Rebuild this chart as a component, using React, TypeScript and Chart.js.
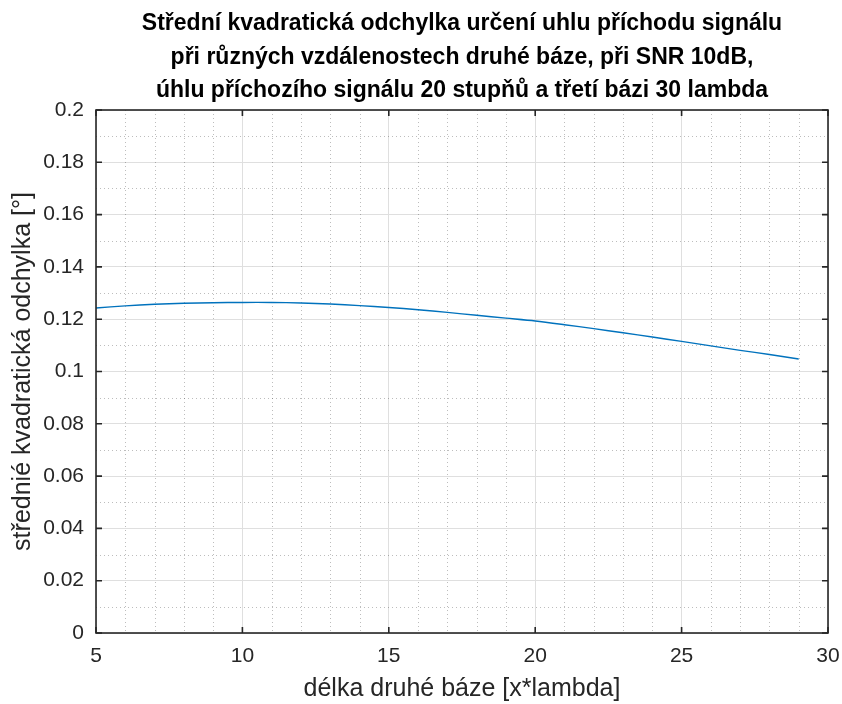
import { useEffect, useRef } from "react";
import { Chart, registerables } from "chart.js";

Chart.register(...registerables);

// Second-base length (multiples of lambda)
const baseLengths = [5, 6, 7, 8, 9, 10, 11, 12, 13, 14, 15, 16, 17, 18, 19, 20, 21, 22, 23, 24, 25, 26, 27, 28, 29];
// RMS error of the direction-of-arrival estimate [deg]
const rmsError = [
  0.1243, 0.1251, 0.1257, 0.1261, 0.1263, 0.1264, 0.1264, 0.1262, 0.1258, 0.1252,
  0.1245, 0.1236, 0.1226, 0.1215, 0.1204, 0.1193, 0.1179, 0.1164, 0.1148, 0.1132,
  0.1115, 0.1098, 0.1081, 0.1065, 0.1048,
];

const xTicks = [5, 10, 15, 20, 25, 30];
const yTicks = [0, 0.02, 0.04, 0.06, 0.08, 0.1, 0.12, 0.14, 0.16, 0.18, 0.2];
const xMinorStep = 1;
const yMinorStep = 0.01;

const titleLines = [
  "Střední kvadratická odchylka určení uhlu příchodu signálu",
  "při různých vzdálenostech druhé báze, při SNR 10dB,",
  "úhlu příchozího signálu 20 stupňů a třetí bázi 30 lambda",
];
const xLabel = "délka druhé báze [x*lambda]";
const yLabel = "střednié kvadratická odchylka [°]";

const AXIS_COLOR = "#262626";
const FONT = "'Liberation Sans', Arial, Helvetica, sans-serif";

const framePlugin = {
  id: "matlabFrame",
  beforeDatasetsDraw(chart: any) {
    const { ctx, chartArea: a, scales } = chart;
    const xs = scales.x;
    const ys = scales.y;
    ctx.save();
    ctx.strokeStyle = "rgba(38,38,38,0.3)";
    ctx.lineWidth = 1;
    ctx.setLineDash([1, 3]);
    for (let v = xs.min + xMinorStep; v < xs.max - 1e-9; v += xMinorStep) {
      if (xTicks.some((t) => Math.abs(t - v) < 1e-9)) continue;
      const px = Math.round(xs.getPixelForValue(v)) + 0.5;
      ctx.beginPath();
      ctx.moveTo(px, a.top);
      ctx.lineTo(px, a.bottom);
      ctx.stroke();
    }
    for (let v = ys.min + yMinorStep; v < ys.max - 1e-9; v += yMinorStep) {
      if (yTicks.some((t) => Math.abs(t - v) < 1e-9)) continue;
      const py = Math.round(ys.getPixelForValue(v)) + 0.5;
      ctx.beginPath();
      ctx.moveTo(a.left, py);
      ctx.lineTo(a.right, py);
      ctx.stroke();
    }
    ctx.restore();
  },
  afterDatasetsDraw(chart: any) {
    const { ctx, chartArea: a, scales } = chart;
    const xs = scales.x;
    const ys = scales.y;
    ctx.save();
    ctx.strokeStyle = AXIS_COLOR;
    ctx.lineWidth = 1.6;
    ctx.setLineDash([]);
    ctx.strokeRect(a.left, a.top, a.right - a.left, a.bottom - a.top);
    const tl = 6;
    ctx.beginPath();
    for (const t of xTicks) {
      const px = xs.getPixelForValue(t);
      ctx.moveTo(px, a.bottom);
      ctx.lineTo(px, a.bottom - tl);
      ctx.moveTo(px, a.top);
      ctx.lineTo(px, a.top + tl);
    }
    for (const t of yTicks) {
      const py = ys.getPixelForValue(t);
      ctx.moveTo(a.left, py);
      ctx.lineTo(a.left + tl, py);
      ctx.moveTo(a.right, py);
      ctx.lineTo(a.right - tl, py);
    }
    ctx.stroke();

    // title
    ctx.fillStyle = "#000";
    ctx.font = `bold 23px ${FONT}`;
    ctx.textAlign = "center";
    ctx.textBaseline = "alphabetic";
    const cx = (a.left + a.right) / 2;
    titleLines.forEach((line, i) => {
      ctx.fillText(line, cx, 30 + i * 33.5);
    });
    ctx.restore();
  },
};

export default function App() {
  const canvasRef = useRef<HTMLCanvasElement | null>(null);

  useEffect(() => {
    const canvas = canvasRef.current;
    if (!canvas) return;
    const chart = new Chart(canvas, {
      type: "line",
      data: {
        datasets: [
          {
            data: baseLengths.map((x, i) => ({ x, y: rmsError[i] })),
            borderColor: "#0072BD",
            borderWidth: 1.4,
            pointRadius: 0,
            tension: 0.3,
            fill: false,
          },
        ],
      },
      options: {
        responsive: false,
        animation: false,
        devicePixelRatio: 1,
        layout: { padding: { top: 110, right: 14, left: 0, bottom: 0 } },
        plugins: {
          legend: { display: false },
          tooltip: { enabled: false },
          title: { display: false },
        },
        scales: {
          x: {
            type: "linear",
            min: 5,
            max: 30,
            afterBuildTicks: (s: any) => {
              s.ticks = xTicks.map((value) => ({ value }));
            },
            afterFit: (s: any) => {
              s.height = 71;
              s.paddingLeft = 0;
              s.paddingRight = 0;
            },
            grid: { color: "#dfdfdf", lineWidth: 1, drawTicks: false },
            border: { display: false },
            ticks: {
              color: AXIS_COLOR,
              font: { family: FONT, size: 21 },
              padding: 11,
              maxRotation: 0,
              autoSkip: false,
              callback: (v: any) => String(v),
            },
            title: {
              display: true,
              text: xLabel,
              color: AXIS_COLOR,
              font: { family: FONT, size: 25 },
              padding: { top: 0, bottom: 0 },
            },
          },
          y: {
            type: "linear",
            min: 0,
            max: 0.2,
            afterBuildTicks: (s: any) => {
              s.ticks = yTicks.map((value) => ({ value }));
            },
            afterFit: (s: any) => {
              s.width = 96;
              s.paddingTop = 0;
              s.paddingBottom = 0;
            },
            grid: { color: "#dfdfdf", lineWidth: 1, drawTicks: false },
            border: { display: false },
            ticks: {
              color: AXIS_COLOR,
              font: { family: FONT, size: 21 },
              padding: 12,
              autoSkip: false,
              callback: (v: any) => String(parseFloat(Number(v).toFixed(2))),
            },
            title: {
              display: true,
              text: yLabel,
              color: AXIS_COLOR,
              font: { family: FONT, size: 25 },
              padding: { top: 8, bottom: 0 },
            },
          },
        },
      },
      plugins: [framePlugin],
    } as any);
    return () => chart.destroy();
  }, []);

  return (
    <div style={{ position: "fixed", left: 0, top: 0, width: 842, height: 704, background: "#fff" }}>
      <canvas ref={canvasRef} width={842} height={704} />
    </div>
  );
}
